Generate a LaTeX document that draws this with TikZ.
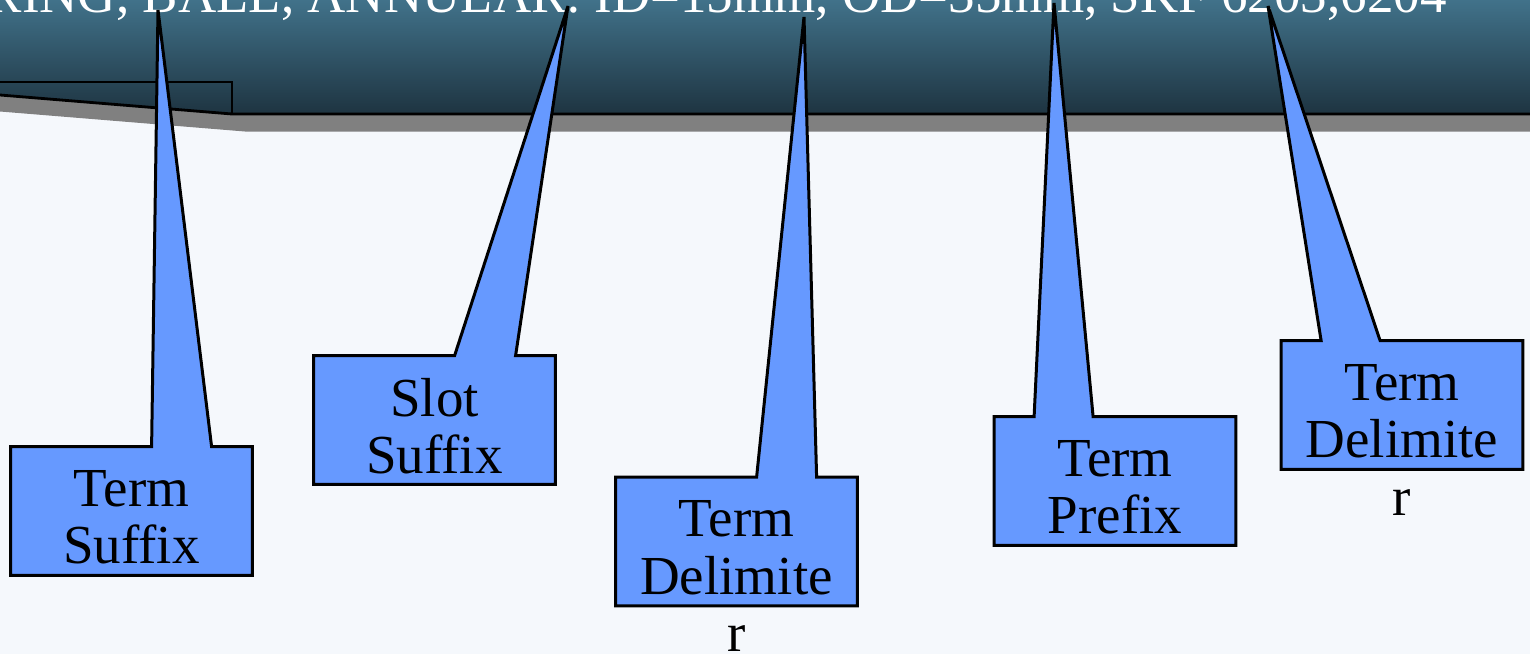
\documentclass[tikz,border=0pt]{standalone}
\usepackage{fontspec}
\setmainfont{Liberation Serif}
\usetikzlibrary{calc}
\definecolor{bgcol}{HTML}{F5F8FC}
\definecolor{bannertop}{HTML}{41728A}
\definecolor{bannerbot}{HTML}{1E3441}
\definecolor{shadowgray}{HTML}{808080}
\definecolor{calloutblue}{HTML}{6699FF}
\tikzset{
  box/.style={rectangle, draw=none, minimum width=120.5pt, minimum height=64pt, inner sep=0pt},
  callout/.style={draw=black, fill=calloutblue, line width=1.5pt, line join=miter},
  boxtext/.style={anchor=north, align=center, inner sep=0pt, font=\fontsize{27.5}{28.75}\selectfont, text=black},
  titletext/.style={anchor=base east, inner sep=0pt, font=\fontsize{26.5}{30}\selectfont, text=white},
  edge/.style={draw=black, line width=1.4pt}
}
\begin{document}
\begin{tikzpicture}[x=0.5pt, y=-0.5pt]
\useasboundingbox (0,0) rectangle (1530,654);
\clip (0,0) rectangle (1530,654);
\fill[bgcol] (0,0) rectangle (1530,654);
% shadow strip
\fill[shadowgray] (0,95) -- (232,114) -- (1530,114) -- (1530,131.5) -- (245,131.5) -- (0,111.5) -- cycle;
% banner
\shade[top color=bannertop, bottom color=bannerbot] (0,0) -- (1530,0) -- (1530,114) -- (232,114) -- (0,95) -- cycle;
\node[titletext] (title) at (1447,12) {BEARING, BALL, ANNULAR: ID=15mm, OD=35mm, SKF 6203,6204};
\draw[edge] (0,95) -- (232,114) -- (1530,114);
\draw[edge] (0,82) -- (232,82) -- (232,114);
% callout boxes
\node[box] (b1) at (131.5,511) {};
\node[box] (b2) at (434.5,420) {};
\node[box] (b3) at (736.5,541.5) {};
\node[box] (b4) at (1115,481) {};
\node[box] (b5) at (1402,405) {};
\coordinate (t1) at (158,10);
\coordinate (t2) at (568,6);
\coordinate (t3) at (804,17);
\coordinate (t4) at (1054,3);
\coordinate (t5) at (1268,6);
\draw[callout] (b1.south west) -- (b1.north west) -- ($(b1.north west)+(141,0)$) -- (t1) -- ($(b1.north west)+(201,0)$) -- (b1.north east) -- (b1.south east) -- cycle;
\draw[callout] (b2.south west) -- (b2.north west) -- ($(b2.north west)+(141,0)$) -- (t2) -- ($(b2.north west)+(202,0)$) -- (b2.north east) -- (b2.south east) -- cycle;
\draw[callout] (b3.south west) -- (b3.north west) -- ($(b3.north west)+(141,0)$) -- (t3) -- ($(b3.north west)+(201,0)$) -- (b3.north east) -- (b3.south east) -- cycle;
\draw[callout] (b4.south west) -- (b4.north west) -- ($(b4.north west)+(40,0)$) -- (t4) -- ($(b4.north west)+(99,0)$) -- (b4.north east) -- (b4.south east) -- cycle;
\draw[callout] (b5.south west) -- (b5.north west) -- ($(b5.north west)+(40,0)$) -- (t5) -- ($(b5.north west)+(99,0)$) -- (b5.north east) -- (b5.south east) -- cycle;
% texts
\node[boxtext] (x1) at ($(b1.north)+(0,23)$) {Term\\Suffix};
\node[boxtext] (x2) at ($(b2.north)+(0,22)$) {Slot\\Suffix};
\node[boxtext] (x3) at ($(b3.north)+(0,23)$) {Term\\Delimite\\r};
\node[boxtext] (x4) at ($(b4.north)+(0,23)$) {Term\\Prefix};
\node[boxtext] (x5) at ($(b5.north)+(0,23)$) {Term\\Delimite\\r};
\end{tikzpicture}
\end{document}
